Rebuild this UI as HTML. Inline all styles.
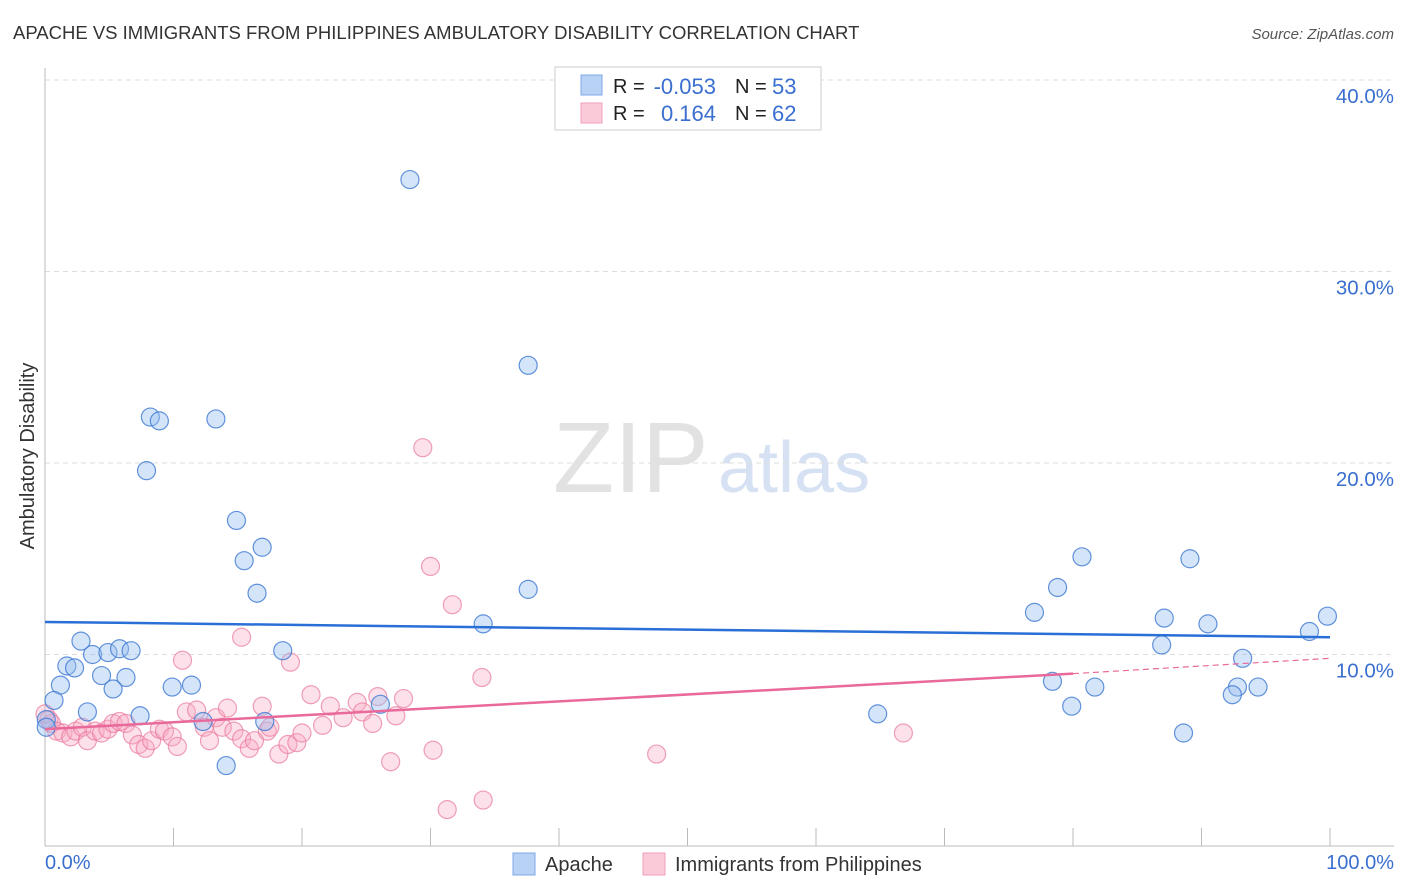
<!DOCTYPE html>
<html><head><meta charset="utf-8"><style>
body{margin:0;background:#fff;font-family:"Liberation Sans",sans-serif}
#wrap{position:relative;width:1406px;height:892px;overflow:hidden}
svg text{font-family:"Liberation Sans",sans-serif}
</style></head><body>
<div id="wrap">
<svg id="chart" width="1406" height="892">
<text x="13" y="39" font-size="18.5" fill="#333">APACHE VS IMMIGRANTS FROM PHILIPPINES AMBULATORY DISABILITY CORRELATION CHART</text>
<text x="1394" y="39" font-size="15" fill="#555" font-style="italic" text-anchor="end">Source: ZipAtlas.com</text>
<text x="34" y="456" font-size="20" fill="#333" text-anchor="middle" transform="rotate(-90 34 456)">Ambulatory Disability</text>
<text x="553" y="492" font-size="100" fill="#e2e2e2" font-family="Liberation Serif">ZIP</text>
<text x="718" y="492" font-size="72" fill="#d6e2f3">atlas</text>
<g id="grid"></g><g id="pts"></g><g id="lines"></g>
<text x="45" y="869" font-size="20" fill="#3a6fd0">0.0%</text>
<text x="1394" y="869" font-size="20" fill="#3a6fd0" text-anchor="end">100.0%</text>
<g>
<rect x="513" y="853" width="22" height="22" fill="#b8d2f5" stroke="#7fa8e8"/>
<text x="545" y="871" font-size="20" fill="#333">Apache</text>
<rect x="643" y="853" width="22" height="22" fill="#fbcad8" stroke="#f0a0b8"/>
<text x="675" y="871" font-size="20" fill="#333">Immigrants from Philippines</text>
</g>
<g>
<rect x="555" y="67" width="266" height="63" fill="#fff" stroke="#ccc"/>
<rect x="581" y="75" width="21" height="20" fill="#b8d2f5" stroke="#7fa8e8"/>
<rect x="581" y="103" width="21" height="20" fill="#fbcad8" stroke="#f0a0b8"/>
<text x="613" y="93" font-size="20" fill="#222">R =</text>
<text x="716" y="94" font-size="22" fill="#3a6fd0" text-anchor="end">-0.053</text>
<text x="735" y="93" font-size="20" fill="#222">N =</text>
<text x="772" y="94" font-size="22" fill="#3a6fd0">53</text>
<text x="613" y="120" font-size="20" fill="#222">R =</text>
<text x="716" y="121" font-size="22" fill="#3a6fd0" text-anchor="end">0.164</text>
<text x="735" y="120" font-size="20" fill="#222">N =</text>
<text x="772" y="121" font-size="22" fill="#3a6fd0">62</text>
</g>
</svg>
</div>
<script>
const yTicks=[10,20,30,40];
const yTickLabels=["10.0%","20.0%","30.0%","40.0%"];
const xTicks=[0,10,20,30,40,50,60,70,80,90,100];
const apacheX=[28.4,37.6,8.2,8.9,13.3,7.9,14.9,16.9,15.5,16.5,37.6,34.1,2.8,3.7,4.9,5.8,6.7,1.7,2.3,4.4,6.3,1.2,5.3,9.9,11.4,0.7,3.3,7.4,12.3,17.1,26.1,18.5,14.1,0.1,0.1,64.8,80.7,89.1,78.8,77.0,87.1,90.5,99.8,98.4,86.9,93.2,78.4,81.7,92.8,94.4,92.4,79.9,88.6];
const apacheY=[34.8,25.1,22.4,22.2,22.3,19.6,17.0,15.6,14.9,13.2,13.4,11.6,10.7,10.0,10.1,10.3,10.2,9.4,9.3,8.9,8.8,8.4,8.2,8.3,8.4,7.6,7.0,6.8,6.5,6.5,7.4,10.2,4.2,6.6,6.2,6.9,15.1,15.0,13.5,12.2,11.9,11.6,12.0,11.2,10.5,9.8,8.6,8.3,8.3,8.3,7.9,7.3,5.9];
const philX=[29.4,30.0,31.7,15.3,34.0,10.7,19.1,0.3,0.5,0,0.9,1.4,2.0,2.4,2.9,3.3,3.9,4.4,4.9,5.3,5.8,6.3,6.8,7.3,7.8,8.3,8.9,9.3,9.9,10.3,11.0,11.8,12.4,12.8,13.3,13.8,14.2,14.7,15.3,15.9,16.3,16.9,17.3,17.5,18.2,18.9,19.6,20.0,20.7,21.6,22.2,23.2,24.3,24.7,25.5,25.9,26.9,27.3,27.9,30.2,31.3,34.1,47.6,66.8];
const philY=[20.8,14.6,12.6,10.9,8.8,9.7,9.6,6.6,6.4,6.9,6.0,5.9,5.7,6.0,6.2,5.5,6.0,5.9,6.1,6.4,6.5,6.4,5.8,5.3,5.1,5.5,6.1,6.0,5.7,5.2,7.0,7.1,6.2,5.5,6.7,6.2,7.2,6.0,5.6,5.1,5.5,7.3,6.0,6.2,4.8,5.3,5.4,5.9,7.9,6.3,7.3,6.7,7.5,7.0,6.4,7.8,4.4,6.8,7.7,5.0,1.9,2.4,4.8,5.9];
const apacheTrend=[[0,11.7],[100,10.9]];
const philTrend=[[0,6.1],[80,9.0],[100,9.8]];
const X=v=>45+v*12.85, Y=v=>846-v*19.15;
const NS="http://www.w3.org/2000/svg";
function mk(tag,attrs,parent){const e=document.createElementNS(NS,tag);for(const k in attrs)e.setAttribute(k,attrs[k]);parent.appendChild(e);return e;}
const grid=document.getElementById('grid');
yTicks.forEach((t,i)=>{
 const g=mk('line',{x1:45,x2:1394,y1:Y(t),y2:Y(t),stroke:'#ddd','stroke-dasharray':'5,4'},grid);
 
 
 const tx=mk('text',{x:1394,y:Y(t)+23,'font-size':20.5,fill:'#3a6fd0','text-anchor':'end'},grid);
 tx.textContent=yTickLabels[i];
 
 
});
const ax=mk('line',{x1:45,x2:45,y1:68,y2:846,stroke:'#bbb'},grid);


const bx=mk('line',{x1:45,x2:1394,y1:846,y2:846,stroke:'#bbb'},grid);


xTicks.forEach(t=>{
 const k=mk('line',{x1:X(t),x2:X(t),y1:828,y2:846,stroke:'#bbb'},grid);
 
 
});
const pts=document.getElementById('pts');
philX.forEach((v,i)=>{
 const c=mk('circle',{cx:X(v),cy:Y(philY[i]),r:9,fill:'rgba(248,170,195,0.35)',stroke:'rgba(232,120,155,0.7)','stroke-width':1.2},pts);
 
 
});
apacheX.forEach((v,i)=>{
 const c=mk('circle',{cx:X(v),cy:Y(apacheY[i]),r:9,fill:'rgba(150,190,240,0.4)',stroke:'rgba(60,120,210,0.8)','stroke-width':1.2},pts);
 
 
});
const lines=document.getElementById('lines');
const a=mk('line',{x1:X(apacheTrend[0][0]),y1:Y(apacheTrend[0][1]),x2:X(apacheTrend[1][0]),y2:Y(apacheTrend[1][1]),stroke:'#2a6fd6','stroke-width':2.5},lines);


const p1=mk('line',{x1:X(philTrend[0][0]),y1:Y(philTrend[0][1]),x2:X(philTrend[1][0]),y2:Y(philTrend[1][1]),stroke:'#e8699a','stroke-width':2.5},lines);


const p2=mk('line',{x1:X(philTrend[1][0]),y1:Y(philTrend[1][1]),x2:X(philTrend[2][0]),y2:Y(philTrend[2][1]),stroke:'#e8699a','stroke-width':1.2,'stroke-dasharray':'6,4'},lines);


</script>
</body></html>
